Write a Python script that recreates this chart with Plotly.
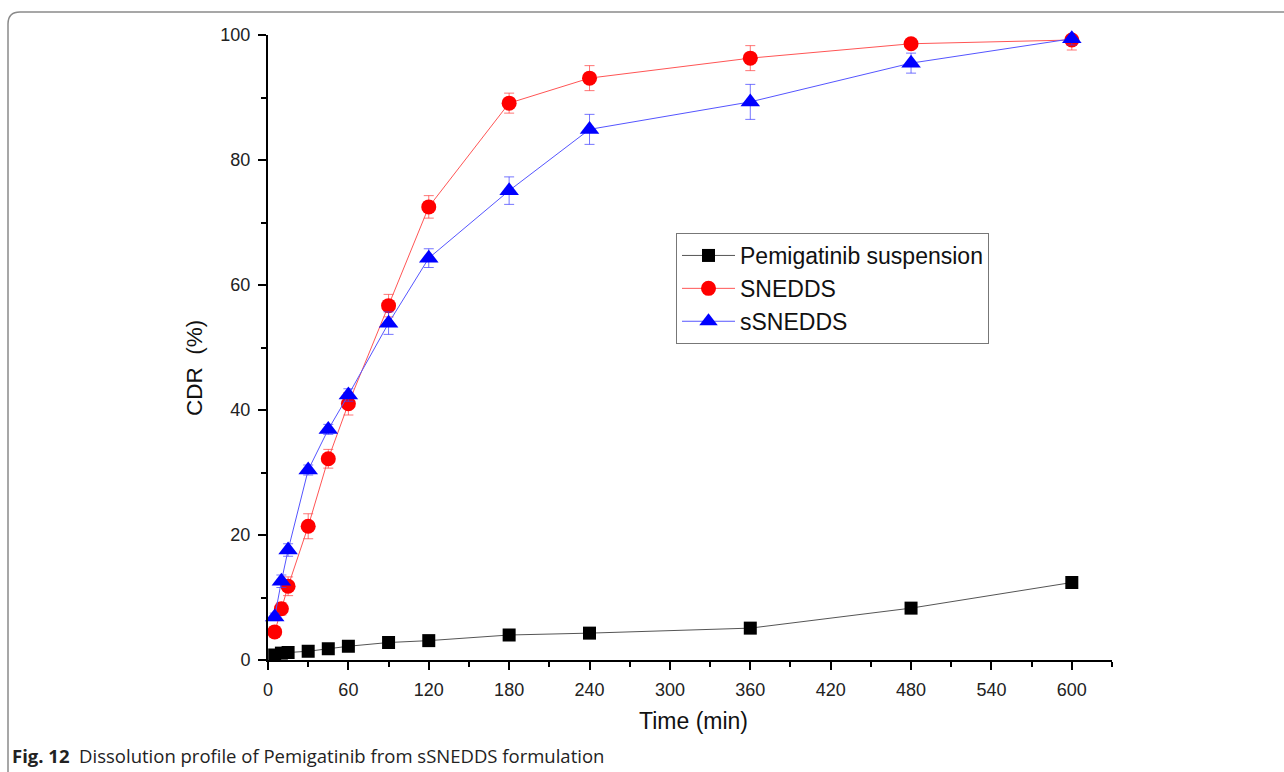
import plotly.graph_objects as go

time_min = [5, 10, 15, 30, 45, 60, 90, 120, 180, 240, 360, 480, 600]

susp = [0.8, 1.1, 1.2, 1.4, 1.8, 2.2, 2.8, 3.1, 4.0, 4.3, 5.1, 8.3, 12.4]
susp_err = [0.3, 0.3, 0.3, 0.3, 0.3, 0.3, 0.4, 0.4, 0.4, 0.4, 0.5, 0.5, 0.8]

snedds = [4.5, 8.2, 11.8, 21.4, 32.2, 41.0, 56.7, 72.5, 89.1, 93.1, 96.3, 98.6, 99.2]
snedds_err = [0.8, 1.0, 1.5, 2.0, 1.5, 1.8, 1.8, 1.8, 1.6, 2.0, 2.0, 0.6, 1.6]

ssnedds = [6.9, 12.6, 17.6, 30.4, 36.9, 42.4, 53.9, 64.3, 75.1, 84.9, 89.3, 95.5, 99.4]
ssnedds_err = [0.6, 1.0, 1.0, 0.8, 0.8, 1.0, 1.8, 1.5, 2.2, 2.4, 2.8, 1.6, 1.0]

series_names = ["Pemigatinib suspension", "SNEDDS", "sSNEDDS"]

x_ticks = [0, 60, 120, 180, 240, 300, 360, 420, 480, 540, 600]
y_ticks = [0, 20, 40, 60, 80, 100]

FONT = "Liberation Sans, Arial, sans-serif"

fig = go.Figure()

fig.add_trace(go.Scatter(
    x=time_min, y=susp, name=series_names[0], mode="lines+markers",
    line=dict(color="#555555", width=1),
    marker=dict(symbol="square", size=13, color="black"),
    error_y=dict(type="data", array=susp_err, color="rgba(0,0,0,0.5)", thickness=1, width=5),
    cliponaxis=False,
))
fig.add_trace(go.Scatter(
    x=time_min, y=snedds, name=series_names[1], mode="lines+markers",
    line=dict(color="#ff5555", width=1),
    marker=dict(symbol="circle", size=15, color="#ff0000"),
    error_y=dict(type="data", array=snedds_err, color="rgba(255,60,60,0.7)", thickness=1, width=5),
    cliponaxis=False,
))
fig.add_trace(go.Scatter(
    x=time_min, y=ssnedds, name=series_names[2], mode="lines+markers",
    line=dict(color="#5555ff", width=1),
    marker=dict(symbol="triangle-up", size=17, color="#0000ff"),
    error_y=dict(type="data", array=ssnedds_err, color="rgba(60,60,255,0.7)", thickness=1, width=5),
    cliponaxis=False,
))

L, R, T, B = 268, 172, 35, 112
W, H = 1284, 772
pw = W - L - R
ph = H - T - B

def px_x(p):
    return (p - L) / pw

def px_y(p):
    return (H - B - p) / ph

# outer rounded frame
x0, y_top = px_x(8), px_y(12)
x_right, y_bot = px_x(1300), px_y(790)
rx, ry = 12 / pw, 12 / ph
frame_path = (f"M {x0},{y_bot} L {x0},{y_top - ry} Q {x0},{y_top} {x0 + rx},{y_top} "
              f"L {x_right},{y_top}")

fig.update_layout(
    width=W, height=H,
    margin=dict(l=L, r=R, t=T, b=B),
    paper_bgcolor="white", plot_bgcolor="white",
    font=dict(family=FONT, size=18, color="#222222"),
    showlegend=True,
    legend=dict(
        x=px_x(676), y=px_y(233), xanchor="left", yanchor="top",
        bordercolor="#777777", borderwidth=1, bgcolor="white",
        font=dict(family=FONT, size=23, color="#111111"),
        tracegroupgap=0, itemwidth=53,
    ),
    xaxis=dict(
        range=[0, 630], tickmode="array", tickvals=x_ticks,
        showgrid=False, zeroline=False, showline=True, linecolor="black", linewidth=2,
        ticks="outside", ticklen=8, tickwidth=2, tickcolor="black",
        ticklabelstandoff=4,
        tickfont=dict(family=FONT, size=18, color="#222222"),
        minor=dict(tickvals=[30, 90, 150, 210, 270, 330, 390, 450, 510, 570, 630],
                   ticks="outside", ticklen=5, tickwidth=2, tickcolor="black"),
    ),
    yaxis=dict(
        range=[0, 100], tickmode="array", tickvals=y_ticks,
        showgrid=False, zeroline=False, showline=True, linecolor="black", linewidth=2,
        ticks="outside", ticklen=8, tickwidth=2, tickcolor="black",
        ticklabelstandoff=4,
        tickfont=dict(family=FONT, size=18, color="#222222"),
        minor=dict(tickvals=[10, 30, 50, 70, 90],
                   ticks="outside", ticklen=5, tickwidth=2, tickcolor="black"),
    ),
    shapes=[dict(type="path", xref="paper", yref="paper", path=frame_path,
                 line=dict(color="#8a8a8a", width=1.5))],
    annotations=[
        dict(text="CDR  (%)", xref="paper", yref="paper", x=px_x(195), y=px_y(368),
             textangle=-90, showarrow=False, xanchor="center", yanchor="middle",
             font=dict(family=FONT, size=22.5, color="#111111")),
        dict(text="Time (min)", xref="paper", yref="paper", x=px_x(693), y=px_y(721),
             showarrow=False, xanchor="center", yanchor="middle",
             font=dict(family=FONT, size=23, color="#111111")),
        dict(text="<b>Fig. 12</b>  Dissolution profile of Pemigatinib from sSNEDDS formulation",
             xref="paper", yref="paper", x=px_x(10), y=px_y(755),
             showarrow=False, xanchor="left", yanchor="middle",
             font=dict(family="Open Sans, sans-serif", size=18.5, color="#222222")),
    ],
)

fig.write_html("out.html")
